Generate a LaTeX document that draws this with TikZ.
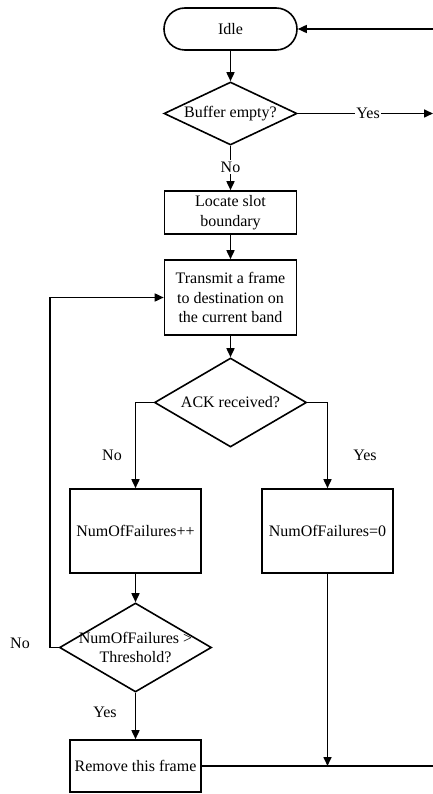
\documentclass[tikz,border=0pt]{standalone}
\usepackage{fontspec}
\setmainfont{Liberation Serif}
\usetikzlibrary{shapes.geometric,arrows.meta,calc}
\begin{document}
\begin{tikzpicture}[x=1pt,y=-1pt,
  font=\fontsize{16}{19.5}\selectfont,
  every path/.style={line width=1.6pt},
  box/.style={draw,rectangle,inner sep=0pt,align=center},
  dia/.style={draw,diamond,inner sep=0pt},
  lbl/.style={inner sep=1.5pt,fill=white},
  arr/.style={-{Triangle[length=9pt,width=8pt]}}]
\useasboundingbox (0,0) rectangle (433,794);
\node[box,rounded corners=21pt,minimum width=133pt,minimum height=42pt] (idle) at (230.5,29) {Idle};
\node[dia,minimum width=133pt,minimum height=63pt,label={center:Buffer empty?}] (buf) at (230.5,113.5) {};
\node[box,minimum width=132pt,minimum height=43pt] (loc) at (230.5,212.5) {Locate slot\\boundary};
\node[box,minimum width=132pt,minimum height=75pt] (tx) at (230.5,297.5) {Transmit a frame\\to destination on\\the current band};
\node[dia,minimum width=152pt,minimum height=89pt,label={center:ACK received?}] (ack) at (230.5,402.5) {};
\node[box,minimum width=131pt,minimum height=84pt] (nf) at (135.5,531) {NumOfFailures++};
\node[box,minimum width=131pt,minimum height=84pt] (nz) at (327.5,531) {NumOfFailures=0};
\node[dia,minimum width=152pt,minimum height=89pt,label={[align=center]center:NumOfFailures >\\Threshold?}] (thr) at (135.5,647.5) {};
\node[box,minimum width=131pt,minimum height=52pt] (rem) at (135.5,766) {Remove this frame};
\coordinate (rin) at (433,29);
\coordinate (rout) at (433,113.5);
\coordinate (rbot) at (433,766);
\coordinate (lx) at (50,0);
% connectors
\draw[arr] (idle) -- (buf);
\draw[arr] (rin) -- (idle);
\draw[arr] (buf.east) -- node[lbl,pos=0.52] (yes1) {Yes} (rout);
\draw[arr] (buf) -- node[lbl,pos=0.48] (no1) {No} (loc);
\draw[arr] (loc) -- (tx);
\draw[arr] (tx) -- (ack);
\draw[arr] (ack.west) -| (nf.north);
\draw[arr] (ack.east) -| (nz.north);
\node (no2) at (112,455) {No};
\node (yes2) at (365,455) {Yes};
\draw[arr] (nf) -- (thr);
\draw[arr] (thr.west) -- (thr.west -| lx) |- (tx.west);
\node (no3) at (20,643) {No};
\draw[arr] (thr) -- (rem);
\node (yes3) at (105,712) {Yes};
\draw (rem.east) -- (rbot);
\draw[arr] (nz.south) -- (nz.south |- rem.east);
\end{tikzpicture}
\end{document}
